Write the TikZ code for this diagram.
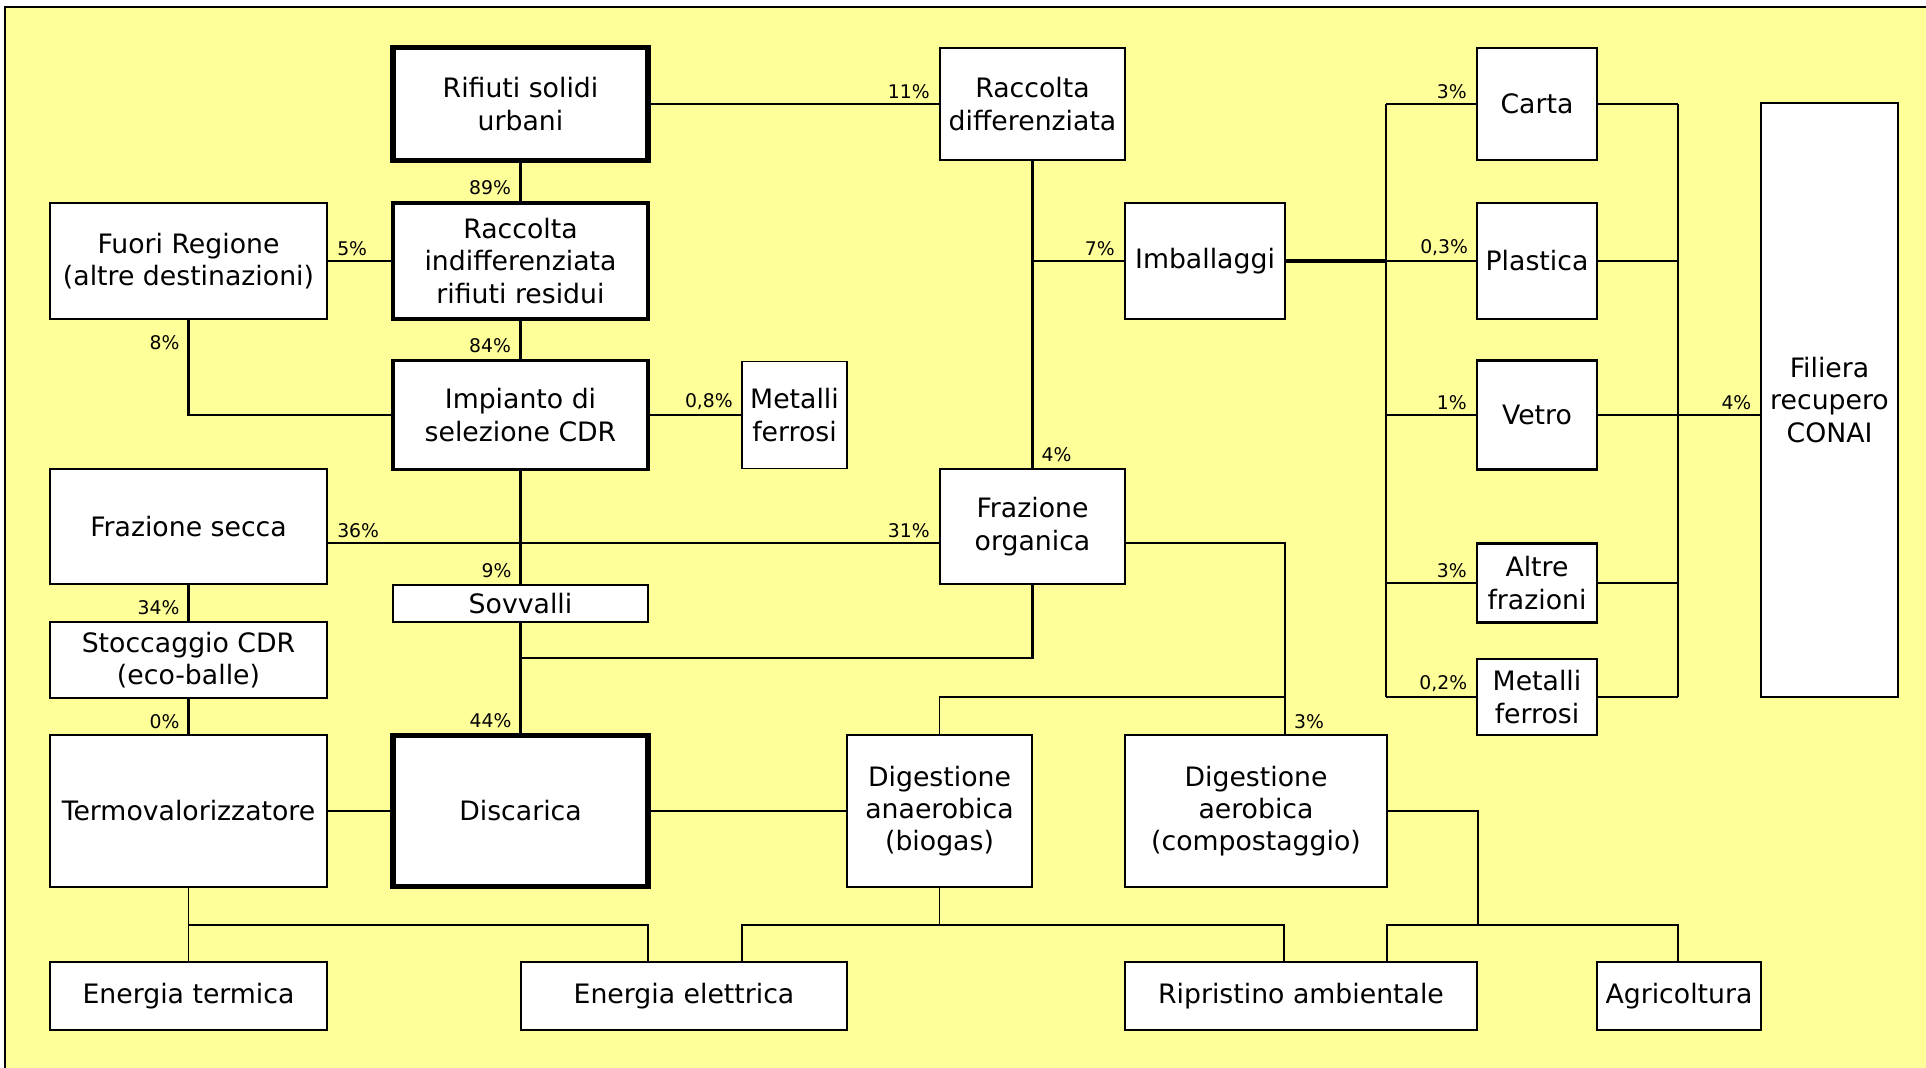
\documentclass[tikz,border=0pt]{standalone}
\usepackage{fontspec}
\setmainfont{DejaVu Sans}
\newcommand{\boxfont}{\fontsize{15.2}{18.4}\selectfont}
\newcommand{\pctfont}{\fontsize{10.7}{12}\selectfont}
\definecolor{bgyellow}{HTML}{FFFF99}
\tikzset{
  box/.style={draw, fill=white, align=center, inner sep=0pt, line width=1.4pt, font=\boxfont},
  lightbox/.style={box, line width=0.9pt},
  strongbox/.style={box, line width=2pt},
  heavybox/.style={box, line width=3pt},
  sz/.style 2 args={minimum width=#1*0.2mm, minimum height=#2*0.2mm},
  pct/.style={font=\pctfont, inner xsep=4.5pt, inner ysep=2.5pt},
  la/.style={pct, anchor=south east},
  lb/.style={pct, anchor=south west},
  thinline/.style={line width=0.6pt},
  midline/.style={line width=0.9pt},
  flow/.style={line width=1.3pt},
  mainflow/.style={line width=1.9pt},
}
\begin{document}
\begin{tikzpicture}[x=0.2mm, y=-0.2mm]
    % sfondo
    \useasboundingbox (0,0) rectangle (1926,1068);
    \fill[bgyellow] (5,7) rectangle (1926,1068);
    \draw[line width=1.7pt] (5,1068) -- (5,7) -- (1926,7);

    % colonna sinistra
    \node[box, sz={277}{116}] (fr) at (188.5,261) {Fuori Regione\\(altre destinazioni)};
    \node[box, sz={277}{115}] (fs) at (188.5,526.5) {Frazione secca};
    \node[box, sz={277}{76}] (stc) at (188.5,660) {Stoccaggio CDR\\(eco-balle)};
    \node[lightbox, sz={277}{152}] (tv) at (188.5,811) {Termovalorizzatore};
    \node[lightbox, sz={277}{68}] (et) at (188.5,996) {Energia termica};

    % colonna centrale
    \node[heavybox, sz={255}{113}] (rsu) at (520.5,104) {Rifiuti solidi\\urbani};
    \node[strongbox, sz={255}{116}] (ri) at (520.5,261) {Raccolta\\indifferenziata\\rifiuti residui};
    \node[strongbox, sz={255}{109}] (imp) at (520.5,415) {Impianto di\\selezione CDR};
    \node[box, sz={255}{37}] (sov) at (520.5,603.5) {Sovvalli};
    \node[heavybox, sz={255}{151}] (dis) at (520.5,811) {Discarica};
    \node[lightbox, sz={105}{107}] (mfl) at (794.5,415) {Metalli\\ferrosi};
    \node[lightbox, sz={326}{68}] (eel) at (684,996) {Energia elettrica};

    % raccolta differenziata
    \node[box, sz={185}{112}] (rd) at (1032.5,104) {Raccolta\\differenziata};
    \node[box, sz={160}{116}] (imb) at (1205,261) {Imballaggi};
    \node[box, sz={185}{115}] (fo) at (1032.5,526.5) {Frazione\\organica};
    \node[lightbox, sz={185}{152}] (dan) at (939.5,811) {Digestione\\anaerobica\\(biogas)};
    \node[lightbox, sz={262}{152}] (dae) at (1256,811) {Digestione\\aerobica\\(compostaggio)};
    \node[lightbox, sz={352}{68}] (rip) at (1301,996) {Ripristino ambientale};
    \node[lightbox, sz={164}{68}] (agr) at (1679,996) {Agricoltura};

    % frazioni imballaggi
    \node[box, sz={120}{112}] (car) at (1537,104) {Carta};
    \node[lightbox, line width=0.6pt, sz={120}{116}] (pla) at (1537,261) {Plastica};
    \node[box, sz={120}{109}] (vet) at (1537,415) {Vetro};
    \node[box, sz={120}{79}] (alt) at (1537,583) {Altre\\frazioni};
    \node[lightbox, sz={120}{76}] (mfr) at (1537,697) {Metalli\\ferrosi};
    \node[box, sz={137}{594}] (fil) at (1829.5,400) {Filiera\\recupero\\CONAI};

    \coordinate (bl1) at (1386,104);
    \coordinate (bl2) at (1386,697);
    \coordinate (br1) at (1678,104);
    \coordinate (br2) at (1678,697);
    \coordinate (j1) at (520.5,658);
    \coordinate (j2) at (1285,697);
    \coordinate (j3) at (188.5,925);
    \coordinate (j4) at (648,925);
    \coordinate (j5) at (742,925);
    \coordinate (j6) at (1284,925);
    \coordinate (j7) at (1387,925);
    \coordinate (j8) at (1678,925);

    % indifferenziata
    \draw[mainflow] (rsu) -- node[la, pos=1] {89\%} (ri);
    \draw[mainflow] (ri) -- node[la, pos=1] {84\%} (imp);
    \draw[flow] (fr) -- node[lb, pos=0] {5\%} (ri);
    \draw[flow] (fr.south) |- node[pct, anchor=east, pos=0.12] {8\%} (imp.west);
    \draw[thinline] (imp) -- node[la, pos=1] {0,8\%} (mfl);
    \draw[flow] (imp) -- node[la, pos=1] {9\%} (sov);
    \draw[flow] ([yshift=-3.3mm]fs.east) -- node[lb, pos=0] {36\%} node[la, pos=1] {31\%} ([yshift=-3.3mm]fo.west);
    \draw[flow] (fs) -- node[la, pos=1] {34\%} (stc);
    \draw[flow] (stc) -- node[la, pos=1] {0\%} (tv);
    \draw[flow] (sov) -- node[la, pos=1] {44\%} (dis);
    \draw[flow] (fo.south) |- (j1);

    % differenziata
    \draw[flow] (rsu) -- node[la, pos=1] {11\%} (rd);
    \draw[flow] (rd) -- node[lb, pos=1] {4\%} (fo);
    \draw[flow] (rd.south |- imb.west) -- node[la, pos=1] {7\%} (imb);
    \draw[mainflow] (imb) -- (imb.east -| bl1);
    \draw[flow] (bl1) -- (bl2);
    \foreach \n/\p/\w in {car/3\%/flow, pla/{0,3\%}/thinline, vet/1\%/flow, alt/3\%/flow, mfr/{0,2\%}/flow}
        \draw[\w] (\n.west -| bl1) -- node[la, pos=1] {\p} (\n);
    \draw[thinline] (br1) -- (br2);
    \foreach \n in {car, pla, alt, mfr}
        \draw[thinline] (\n) -- (\n.east -| br1);
    \draw[thinline] (vet) -- node[la, pos=1] {4\%} (vet.east -| fil.west);

    % frazione organica
    \draw[flow] ([yshift=-3.3mm]fo.east) -| (j2) -- node[lb, pos=1] {3\%} (j2 |- dae.north);
    \draw[midline] (j2) -| (dan.north);

    % impianti finali
    \draw[midline] (tv) -- (dis);
    \draw[midline] (dis) -- (dan);
    \draw[midline] (tv) -- (et);
    \draw[midline] (j3) -- (j4) -- (j4 |- eel.north);
    \draw[midline] (dan) -- (dan.south |- j5);
    \draw[midline] (j5 |- eel.north) -- (j5) -- (j6) -- (j6 |- rip.north);
    \draw[midline] (dae.east) -| (rip.east |- j7);
    \draw[midline] (j7 |- rip.north) -- (j7) -- (j8) -- (j8 |- agr.north);
\end{tikzpicture}
\end{document}
